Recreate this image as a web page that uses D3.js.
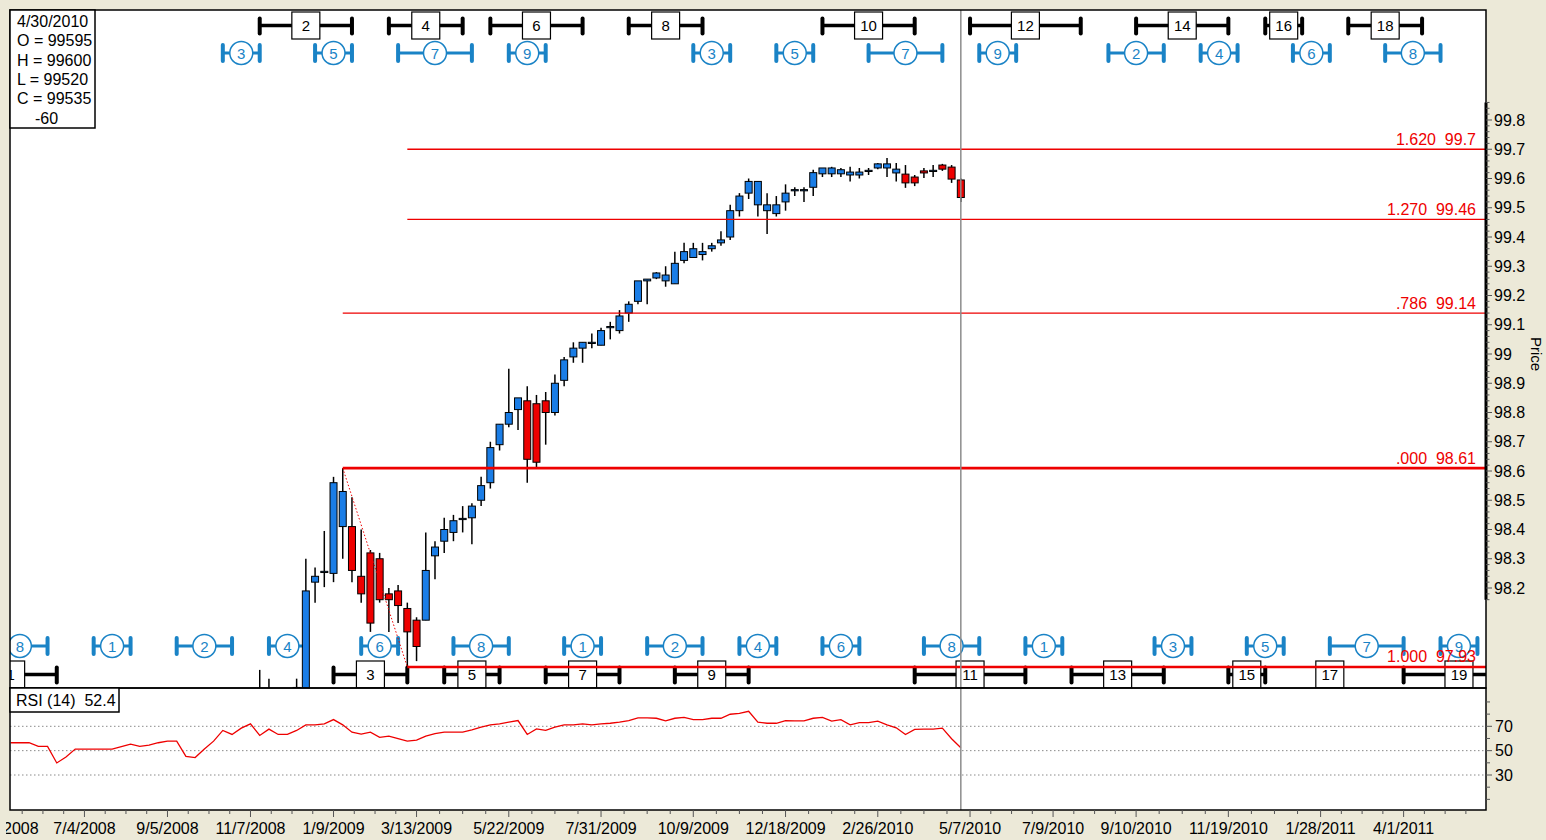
<!DOCTYPE html>
<html><head><meta charset="utf-8">
<script src="https://cdn.jsdelivr.net/npm/d3@7"></script>
<style>
body{margin:0;background:#ECE9D8;overflow:hidden;}
svg{display:block;font-family:"Liberation Sans",Arial,sans-serif;}
</style>
</head><body>
<svg id="c" width="1546" height="840"></svg>
<script>
// ---------------- DATA ----------------
const lastBarDate = "04/30/2010";
const candleStartDate = "11/14/2008";
const candleOpen  = [97.70,97.75,97.76,97.78,97.82,97.84,98.22,98.253,98.25,98.41,98.41,98.24,98.32,98.30,98.18,98.19,98.13,98.09,98.09,98.31,98.36,98.39,98.434,98.44,98.50,98.56,98.69,98.76,98.81,98.84,98.83,98.84,98.80,98.91,98.99,99.02,99.036,99.03,99.09,99.08,99.14,99.18,99.25,99.26,99.25,99.24,99.32,99.33,99.34,99.36,99.38,99.40,99.49,99.55,99.51,99.49,99.48,99.52,99.559,99.558,99.57,99.616,99.616,99.616,99.612,99.612,99.624,99.636,99.636,99.619,99.615,99.605,99.626,99.624,99.646,99.639,99.595];
const candleHigh  = [97.92,97.89,97.83,97.84,97.89,98.30,98.27,98.395,98.58,98.61,98.51,98.40,98.33,98.32,98.20,98.21,98.15,98.10,98.39,98.36,98.44,98.45,98.48,98.49,98.58,98.70,98.76,98.95,98.85,98.89,98.86,98.87,98.93,98.99,99.04,99.04,99.07,99.09,99.11,99.15,99.18,99.25,99.256,99.28,99.30,99.35,99.38,99.38,99.38,99.38,99.42,99.51,99.55,99.60,99.59,99.55,99.54,99.58,99.57,99.57,99.63,99.636,99.64,99.636,99.64,99.636,99.636,99.653,99.67,99.653,99.646,99.612,99.636,99.646,99.65,99.646,99.600];
const candleLow   = [97.60,97.65,97.70,97.72,97.78,97.80,98.15,98.203,98.22,98.30,98.22,98.15,98.05,98.15,98.05,98.08,97.93,97.95,98.09,98.23,98.32,98.36,98.39,98.35,98.48,98.54,98.67,98.75,98.74,98.56,98.61,98.69,98.79,98.89,98.97,98.97,99.02,99.03,99.05,99.07,99.11,99.17,99.17,99.256,99.23,99.24,99.31,99.33,99.32,99.35,99.37,99.39,99.47,99.53,99.47,99.41,99.47,99.49,99.54,99.52,99.54,99.605,99.605,99.605,99.59,99.60,99.612,99.632,99.605,99.59,99.568,99.574,99.602,99.605,99.626,99.585,99.520];
const candleClose = [97.75,97.78,97.80,97.82,97.86,98.19,98.24,98.257,98.56,98.53,98.26,98.18,98.08,98.16,98.16,98.14,98.05,98.00,98.26,98.34,98.40,98.43,98.438,98.48,98.55,98.68,98.76,98.80,98.85,98.64,98.63,98.80,98.90,98.98,99.02,99.04,99.04,99.08,99.094,99.13,99.17,99.25,99.256,99.277,99.27,99.31,99.35,99.36,99.35,99.37,99.39,99.49,99.54,99.59,99.59,99.51,99.51,99.55,99.562,99.562,99.62,99.636,99.636,99.63,99.622,99.622,99.628,99.65,99.65,99.632,99.585,99.585,99.619,99.628,99.632,99.598,99.535];

const rsiStartDate = "05/09/2008";
const rsiValues = [56.5,56.5,56.5,53.5,53.5,39.9,44.8,51.3,51.3,51.3,51.3,51.3,53.3,55.4,53.5,54.6,56.5,57.8,57.8,45.3,44.3,51.3,57.8,66.6,63.3,68.5,72.0,62.5,67.7,63.3,63.3,66.6,71.2,71.2,72.0,75.5,71.2,65.2,63.6,65.2,60.9,61.9,59.8,57.8,58.7,61.9,63.9,65.2,65.2,65.2,67.1,69.3,71.2,72.0,73.4,74.7,63.3,67.9,66.6,69.3,71.2,71.2,72.0,71.2,72.0,72.5,73.4,74.7,76.9,76.9,76.6,74.5,76.6,77.4,75.5,75.5,76.6,76.6,79.9,80.7,82.3,73.4,72.5,72.5,74.7,74.5,74.5,76.6,77.4,74.2,75.5,71.2,73.1,73.1,74.2,71.2,68.8,63.3,67.4,67.7,67.7,68.5,59.8,52.4];

const dateTickLabels = ["5/2/2008","7/4/2008","9/5/2008","11/7/2008","1/9/2009","3/13/2009","5/22/2009","7/31/2009","10/9/2009","12/18/2009","2/26/2010","5/7/2010","7/9/2010","9/10/2010","11/19/2010","1/28/2011","4/1/2011"];
const priceTicks = [98.2,98.3,98.4,98.5,98.6,98.7,98.8,98.9,99,99.1,99.2,99.3,99.4,99.5,99.6,99.7,99.8];
const rsiTicks = [30,50,70];

const fibRatios = [".000",".786","1.270","1.620","1.000"];
const fibPrices = [98.61,99.14,99.46,99.7,97.93];
const fibStartDates = ["01/16/2009","01/16/2009","03/06/2009","03/06/2009","03/06/2009"];
const swingHighDate = "01/16/2009", swingHighPrice = 98.61;
const swingLowDate = "03/06/2009", swingLowPrice = 97.93;

// cycle markers: [label, start, middle, end] in weeks relative to the last bar
const topBlackMarks = [[2,-76,-71,-66],[4,-62,-58,-54],[6,-51,-46,-41],[8,-36,-32,-28],[10,-15,-10,-5],[12,1,7,13],[14,19,24,29],[16,33,35,37],[18,42,46,50]];
const topBlueMarks = [[3,-80,-78,-76],[5,-70,-68,-66],[7,-61,-57,-53],[9,-49,-47,-45],[3,-29,-27,-25],[5,-20,-18,-16],[7,-10,-6,-2],[9,2,4,6],[2,16,19,22],[4,26,28,30],[6,36,38,40],[8,46,49,52]];
const bottomBlueMarks = [[8,-105,-102,-99],[1,-94,-92,-90],[2,-85,-82,-79],[4,-75,-73,-71],[6,-65,-63,-61],[8,-55,-52,-49],[1,-43,-41,-39],[2,-34,-31,-28],[4,-24,-22,-20],[6,-15,-13,-11],[8,-4,-1,2],[1,7,9,11],[3,21,23,25],[5,31,33,35],[7,40,44,48],[9,52,54,56]];
const bottomBlackMarks = [[1,-108,-103,-98],[3,-68,-64,-60],[5,-56,-53,-50],[7,-45,-41,-37],[9,-31,-27,-23],[11,-5,1,7],[13,12,17,22],[15,29,31,33],[17,40,40,40],[19,48,54,60]];

const infoLines = ["4/30/2010","O = 99595","H = 99600","L = 99520","C = 99535","-60"];
const rsiLabel = "RSI (14)  52.4";

// ---------------- LAYOUT ----------------
const L = 10, R = 1486, T = 10, MB = 688, RB = 810;
const parse = d3.timeParse("%m/%d/%Y");
const lastDate = parse(lastBarDate);
const WEEK = 7 * 864e5;
const weekOf = w => new Date(lastDate.getTime() + w * WEEK);

const x = d3.scaleTime().domain([weekOf(-103.07), weekOf(56.93)]).range([L, R]);
const y = d3.scaleLinear().domain([98.2, 99.8]).range([588, 120]);
const yr = d3.scaleLinear().domain([30, 70]).range([775, 726.3]);

const BLUE = "#1a7de6", RED = "#ee0000", MARK = "#1a83c6";

const svg = d3.select("#c");
svg.append("rect").attr("width",1546).attr("height",840).attr("fill","#ECE9D8");

const defs = svg.append("defs");
defs.append("clipPath").attr("id","mainClip").append("rect").attr("x",L).attr("y",T).attr("width",R-L).attr("height",MB-T);
defs.append("clipPath").attr("id","rsiClip").append("rect").attr("x",L).attr("y",MB).attr("width",R-L).attr("height",RB-MB);
defs.append("clipPath").attr("id","axisClip").append("rect").attr("x",6).attr("y",RB).attr("width",1540).attr("height",840-RB);

// panels
svg.append("rect").attr("x",L).attr("y",T).attr("width",R-L).attr("height",MB-T).attr("fill","#fff");
svg.append("rect").attr("x",L).attr("y",MB).attr("width",R-L).attr("height",RB-MB).attr("fill","#fff");

const main = svg.append("g").attr("clip-path","url(#mainClip)");

// ---- cycle markers ----
function blackMarks(data, cy){
  const g = main.append("g");
  data.forEach(([n,a,m,b])=>{
    const xa = x(weekOf(a)), xm = x(weekOf(m)), xb = x(weekOf(b));
    if (b > a) {
      g.append("line").attr("x1",xa).attr("x2",xb).attr("y1",cy).attr("y2",cy).attr("stroke","#000").attr("stroke-width",3.5);
      [xa,xb].forEach(xx=>g.append("line").attr("x1",xx).attr("x2",xx).attr("y1",cy-7).attr("y2",cy+8)
        .attr("stroke","#000").attr("stroke-width",4).attr("stroke-linecap","round"));
    }
    g.append("rect").attr("x",xm-14).attr("y",cy-13.5).attr("width",28).attr("height",27).attr("fill","#fff").attr("stroke","#000").attr("stroke-width",1.2);
    g.append("text").attr("x",xm).attr("y",cy+5.5).attr("text-anchor","middle").attr("font-size",15).attr("fill","#000").text(n);
  });
}
function blueMarks(data, cy){
  const g = main.append("g");
  data.forEach(([n,a,m,b])=>{
    const xa = x(weekOf(a)), xm = x(weekOf(m)), xb = x(weekOf(b));
    g.append("line").attr("x1",xa).attr("x2",xb).attr("y1",cy).attr("y2",cy).attr("stroke",MARK).attr("stroke-width",3);
    [xa,xb].forEach(xx=>g.append("line").attr("x1",xx).attr("x2",xx).attr("y1",cy-8).attr("y2",cy+8)
      .attr("stroke",MARK).attr("stroke-width",4).attr("stroke-linecap","round"));
    g.append("circle").attr("cx",xm).attr("cy",cy).attr("r",11.5).attr("fill","#fff").attr("stroke",MARK).attr("stroke-width",1.5);
    g.append("text").attr("x",xm).attr("y",cy+5.5).attr("text-anchor","middle").attr("font-size",15).attr("fill",MARK).text(n);
  });
}
blackMarks(topBlackMarks, 25.5);
blueMarks(topBlueMarks, 53);
blueMarks(bottomBlueMarks, 646);
blackMarks(bottomBlackMarks, 674.5);

// ---- candles ----
const cStart = parse(candleStartDate);
const candles = candleOpen.map((o,i)=>({d:d3.timeWeek.offset(cStart,i), o, h:candleHigh[i], l:candleLow[i], c:candleClose[i]}));
const cg = main.append("g");
candles.forEach(k=>{
  const cx = x(k.d);
  cg.append("line").attr("x1",cx).attr("x2",cx).attr("y1",y(k.h)).attr("y2",y(k.l)).attr("stroke","#000").attr("stroke-width",1.5);
  const top = y(Math.max(k.o,k.c)), bot = y(Math.min(k.o,k.c));
  const hgt = Math.max(bot-top, 1.2);
  cg.append("rect").attr("x",cx-3.5).attr("y",top).attr("width",7).attr("height",hgt)
    .attr("fill", k.c >= k.o ? BLUE : RED).attr("stroke","#000").attr("stroke-width",1);
});

// ---- fib levels ----
const fg = main.append("g");
fibPrices.forEach((p,i)=>{
  const thick = (fibRatios[i]===".000" || fibRatios[i]==="1.000");
  fg.append("line").attr("x1",x(parse(fibStartDates[i]))).attr("x2",R).attr("y1",y(p)).attr("y2",y(p))
    .attr("stroke",RED).attr("stroke-width",thick?2.6:1.3);
});
fg.append("line").attr("x1",x(parse(swingHighDate))).attr("y1",y(swingHighPrice))
  .attr("x2",x(parse(swingLowDate))).attr("y2",y(swingLowPrice))
  .attr("stroke",RED).attr("stroke-width",1).attr("stroke-dasharray","1.5,2");
fibPrices.forEach((p,i)=>{
  fg.append("text").attr("x",R-10).attr("y",y(p)-4.5).attr("text-anchor","end").attr("font-size",16)
    .attr("fill",RED).style("white-space","pre").text(fibRatios[i]+"  "+(+p.toFixed(2)));
});

// ---- RSI ----
const rg = svg.append("g").attr("clip-path","url(#rsiClip)");
rsiTicks.forEach(v=>{
  rg.append("line").attr("x1",L).attr("x2",R).attr("y1",yr(v)).attr("y2",yr(v))
    .attr("stroke","#8a8a8a").attr("stroke-width",1).attr("stroke-dasharray","1.5,2.5");
});
const rStart = parse(rsiStartDate);
const rsi = rsiValues.map((v,i)=>({d:d3.timeWeek.offset(rStart,i), v}));
rg.append("path").datum(rsi).attr("fill","none").attr("stroke",RED).attr("stroke-width",1.3)
  .attr("d", d3.line().x(d=>x(d.d)).y(d=>yr(d.v)));

// ---- last bar vertical line ----
svg.append("line").attr("x1",x(lastDate)).attr("x2",x(lastDate)).attr("y1",T).attr("y2",RB)
  .attr("stroke","#8c8c8c").attr("stroke-width",1.5);

// ---- frames ----
svg.append("rect").attr("x",L).attr("y",T).attr("width",R-L).attr("height",MB-T).attr("fill","none").attr("stroke","#000").attr("stroke-width",1.5);
svg.append("rect").attr("x",L).attr("y",MB).attr("width",R-L).attr("height",RB-MB).attr("fill","none").attr("stroke","#000").attr("stroke-width",1.5);

// ---- price axis ----
const pa = svg.append("g");
pa.append("line").attr("x1",R).attr("x2",R).attr("y1",y(99.86)).attr("y2",y(98.16)).attr("stroke","#000").attr("stroke-width",3);
d3.range(0, 86).map(i=>98.16 + i*0.02).forEach(v=>{
  const major = Math.abs(Math.round(v*10) - v*10) < 1e-6;
  pa.append("line").attr("x1",R).attr("x2",R+(major?6:3.5)).attr("y1",y(v)).attr("y2",y(v)).attr("stroke","#555").attr("stroke-width",1);
});
priceTicks.forEach(v=>{
  pa.append("text").attr("x",R+8).attr("y",y(v)).attr("dy","0.35em").attr("font-size",16).attr("fill","#000").text(String(v));
});
svg.append("text").attr("transform",`translate(1531,${y(99.0)}) rotate(90)`).attr("text-anchor","middle")
  .attr("font-size",15).attr("fill","#000").text("Price");

// ---- RSI axis ----
d3.range(10,100,10).forEach(v=>{
  svg.append("line").attr("x1",R).attr("x2",R+(v%20===10 && v>=30 && v<=70 ? 6 : 4)).attr("y1",yr(v)).attr("y2",yr(v)).attr("stroke","#555");
});
rsiTicks.forEach(v=>{
  svg.append("text").attr("x",R+9).attr("y",yr(v)).attr("dy","0.35em").attr("font-size",16).text(v);
});

// ---- date axis ----
const tickDates = dateTickLabels.map(s=>parse(s.split("/").map((p,i)=>i<2?p.padStart(2,"0"):p).join("/")));
const ag = svg.append("g");
const minor = [];
for (let i=0;i<tickDates.length;i++){
  const a = tickDates[i], b = i+1<tickDates.length ? tickDates[i+1] : d3.timeWeek.offset(a,9);
  for (let j=1;j<4;j++) minor.push(new Date(a.getTime() + (b-a)*j/4));
}
minor.forEach(d=>{ const xx=x(d); if(xx>=L&&xx<=R) ag.append("line").attr("x1",xx).attr("x2",xx).attr("y1",RB).attr("y2",RB+4).attr("stroke","#555"); });
tickDates.forEach(d=>{ const xx=x(d); if(xx>=L&&xx<=R) ag.append("line").attr("x1",xx).attr("x2",xx).attr("y1",RB).attr("y2",RB+7).attr("stroke","#555"); });
const lg = svg.append("g").attr("clip-path","url(#axisClip)");
tickDates.forEach((d,i)=>{
  lg.append("text").attr("x",Math.max(x(d),7.5)).attr("y",834).attr("text-anchor","middle").attr("font-size",16).attr("fill","#000").text(dateTickLabels[i]);
});

// ---- info box ----
svg.append("rect").attr("x",L).attr("y",T).attr("width",85).attr("height",118).attr("fill","#fff").attr("stroke","#000").attr("stroke-width",1.5);
infoLines.forEach((s,i)=>{
  svg.append("text").attr("x", i===5 ? 35 : 17).attr("y",27+i*19.3).attr("font-size",16).attr("fill","#000").text(s);
});

// ---- RSI label ----
svg.append("rect").attr("x",L).attr("y",MB).attr("width",109).attr("height",24).attr("fill","#fff").attr("stroke","#000").attr("stroke-width",1.5);
svg.append("text").attr("x",16).attr("y",MB+18).attr("font-size",16).style("white-space","pre").text(rsiLabel);
</script>
</body></html>
